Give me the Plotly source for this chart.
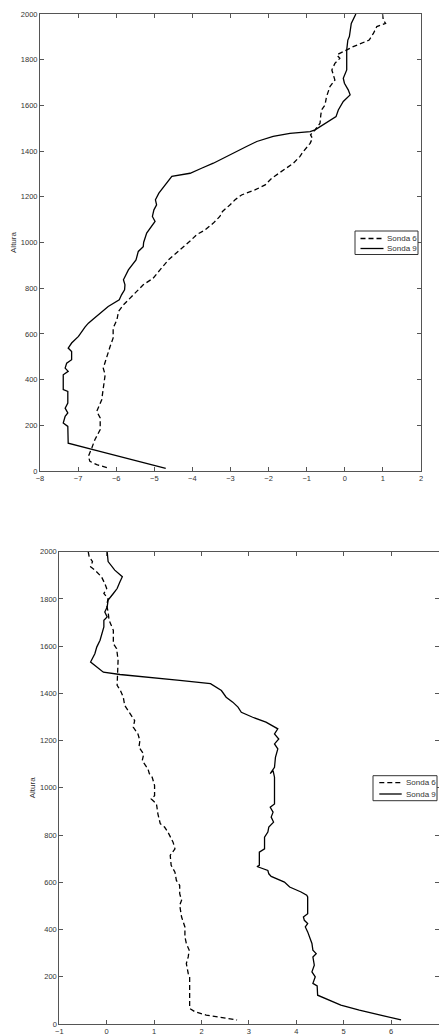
import plotly.graph_objects as go

# ---------------- Top panel ----------------
top_s6_x = [0.99, 1.01, 1.07, 0.84, 0.75, 0.64, 0.22, -0.04, -0.21, -0.13, -0.26, -0.34, -0.26, -0.39,
            -0.48, -0.52, -0.61, -0.63, -0.65, -0.78, -0.90, -0.85, -0.91, -1.09, -1.18, -1.35, -1.61,
            -1.92, -2.09, -2.36, -2.71, -2.88, -3.01, -3.21, -3.28, -3.45, -3.67, -3.89, -4.05, -4.33,
            -4.63, -4.85, -5.03, -5.29, -5.59, -5.81, -5.94, -5.98, -6.08, -6.08, -6.16, -6.25, -6.34,
            -6.29, -6.34, -6.38, -6.51, -6.42, -6.42, -6.56, -6.64, -6.73, -6.69, -6.51, -6.18]
top_s6_y = [2000, 1974, 1959, 1945, 1915, 1886, 1857, 1835, 1821, 1806, 1784, 1755, 1711, 1682,
            1638, 1602, 1580, 1558, 1522, 1493, 1471, 1456, 1434, 1398, 1376, 1347, 1318,
            1281, 1252, 1230, 1208, 1187, 1165, 1136, 1114, 1085, 1055, 1034, 1008, 968,
            924, 880, 844, 815, 764, 727, 698, 662, 625, 582, 545, 494, 450,
            421, 370, 312, 261, 232, 181, 137, 101, 64, 42, 28, 12]

top_s9_x = [0.29, 0.17, 0.12, 0.08, 0.05, 0.05, -0.04, -0.01, 0.09, 0.14, -0.04, -0.17, -0.23, -0.43,
            -0.78, -0.91, -1.44, -1.88, -2.31, -2.58, -3.01, -3.45, -3.76, -4.06, -4.54, -4.59, -4.76,
            -4.88, -4.97, -4.94, -5.01, -5.05, -4.98, -5.07, -5.20, -5.28, -5.29, -5.42, -5.48, -5.68,
            -5.81, -5.77, -5.78, -5.86, -5.92, -6.21, -6.43, -6.60, -6.73, -6.82, -6.99, -7.17, -7.26,
            -7.17, -7.17, -7.30, -7.34, -7.26, -7.39, -7.39, -7.27, -7.27, -7.34, -7.27, -7.34, -7.39,
            -7.27, -7.26, -6.43, -5.55, -4.70]
top_s9_y = [2000, 1959, 1901, 1886, 1843, 1755, 1719, 1697, 1668, 1646, 1617, 1580, 1551, 1529,
            1493, 1485, 1478, 1464, 1442, 1420, 1383, 1347, 1325, 1303, 1289, 1278, 1245,
            1216, 1187, 1165, 1143, 1114, 1092, 1070, 1041, 1000, 982, 961, 924, 880,
            837, 815, 793, 771, 749, 720, 691, 665, 647, 630, 589, 560, 538,
            523, 487, 472, 450, 436, 421, 356, 348, 297, 275, 254, 239, 210,
            195, 122, 86, 50, 12]

# ---------------- Bottom panel ----------------
bot_s6_x = [-0.39, -0.37, -0.30, -0.34, -0.25, -0.11, -0.04, 0.00, -0.06, 0.03, 0.00, 0.03, 0.05, 0.10,
            0.14, 0.14, 0.21, 0.24, 0.22, 0.29, 0.35, 0.38, 0.49, 0.59, 0.56, 0.66, 0.70, 0.68, 0.78,
            0.75, 0.87, 0.90, 0.96, 1.01, 1.01, 0.94, 1.05, 1.08, 1.13, 1.22, 1.29, 1.34, 1.40, 1.44,
            1.34, 1.36, 1.44, 1.47, 1.54, 1.54, 1.58, 1.54, 1.58, 1.65, 1.65, 1.68, 1.74, 1.72, 1.68,
            1.72, 1.75, 1.75, 1.86, 2.10, 2.52, 2.75]
bot_s6_y = [2000, 1979, 1958, 1936, 1922, 1894, 1865, 1844, 1823, 1802, 1773, 1745, 1710, 1688,
            1667, 1611, 1589, 1540, 1434, 1412, 1384, 1349, 1313, 1285, 1257, 1228, 1200, 1172, 1143,
            1115, 1080, 1060, 1045, 1010, 967, 953, 932, 890, 848, 834, 813, 791, 770, 742,
            714, 672, 643, 608, 587, 552, 524, 503, 453, 411, 369, 341, 313, 284, 256,
            214, 200, 66, 52, 38, 24, 17]

bot_s9_x = [0.01, 0.03, 0.17, 0.33, 0.28, 0.22, 0.14, 0.03, 0.01, -0.04, 0.01, -0.06, -0.06, -0.11,
            -0.14, -0.21, -0.25, -0.34, -0.21, -0.07, 0.28, 0.91, 1.54, 2.19, 2.31, 2.42, 2.52, 2.66,
            2.77, 2.84, 3.08, 3.36, 3.61, 3.54, 3.63, 3.54, 3.61, 3.56, 3.54, 3.45, 3.51, 3.54, 3.54,
            3.45, 3.51, 3.47, 3.52, 3.42, 3.40, 3.33, 3.33, 3.22, 3.22, 3.17, 3.40, 3.42, 3.47, 3.75,
            3.86, 4.10, 4.22, 4.24, 4.24, 4.15, 4.17, 4.24, 4.19, 4.24, 4.28, 4.33, 4.35, 4.42, 4.35,
            4.38, 4.33, 4.40, 4.35, 4.44, 4.45, 4.70, 4.94, 5.33, 5.75, 6.21]
bot_s9_y = [2000, 1958, 1922, 1894, 1873, 1844, 1823, 1795, 1766, 1745, 1724, 1710, 1681, 1646,
            1625, 1596, 1568, 1533, 1511, 1490, 1480, 1469, 1455, 1441, 1427, 1412, 1384, 1363,
            1342, 1320, 1299, 1278, 1250, 1228, 1207, 1186, 1165, 1129, 1087, 1060, 1073, 1045, 932,
            918, 897, 876, 855, 834, 813, 791, 742, 728, 672, 667, 650, 636, 625, 601,
            580, 559, 545, 538, 467, 453, 439, 425, 411, 390, 369, 341, 313, 298, 284,
            249, 221, 200, 172, 161, 122, 101, 80, 59, 38, 17]

series_names = ["Sonda 6", "Sonda 9"]
y_title = "Altura"
top_xticks = [-8, -7, -6, -5, -4, -3, -2, -1, 0, 1, 2]
bot_xticks = [-1, 0, 1, 2, 3, 4, 5, 6, 7]
yticks = [0, 200, 400, 600, 800, 1000, 1200, 1400, 1600, 1800, 2000]

W, H = 439, 1034


def px(x):
    return x / W


def py(y):
    return (H - y) / H


fig = go.Figure()

DASH = "5px,3px"
line_dash = dict(color="black", width=1.3, dash=DASH)
line_solid = dict(color="black", width=1.3)

fig.add_trace(go.Scatter(x=top_s6_x, y=top_s6_y, mode="lines", line=line_dash, name=series_names[0],
                         xaxis="x", yaxis="y", showlegend=False))
fig.add_trace(go.Scatter(x=top_s9_x, y=top_s9_y, mode="lines", line=line_solid, name=series_names[1],
                         xaxis="x", yaxis="y", showlegend=False))
fig.add_trace(go.Scatter(x=bot_s6_x, y=bot_s6_y, mode="lines", line=line_dash, name=series_names[0],
                         xaxis="x2", yaxis="y2", showlegend=False))
fig.add_trace(go.Scatter(x=bot_s9_x, y=bot_s9_y, mode="lines", line=line_solid, name=series_names[1],
                         xaxis="x2", yaxis="y2", showlegend=False))

FONT = "Liberation Sans, Arial"
axis_common = dict(showline=True, linecolor="#555555", linewidth=1, mirror="ticks", ticks="inside",
                   ticklen=4, tickcolor="#555555", showgrid=False, zeroline=False,
                   tickfont=dict(family=FONT, size=7.5, color="#333333"),
                   automargin=False)

# ---- legends drawn as boxes with line samples and real text ----
shapes = []
annotations = []
legend_boxes = [
    dict(x0=355, x1=418, y0=231, y1=254.5, lx0=360.5, lx1=383.5, tx=385, rows=[238.5, 248.5]),
    dict(x0=373, x1=437, y0=775.7, y1=800.7, lx0=379.3, lx1=401.7, tx=403.5, rows=[782.7, 794]),
]
for lb in legend_boxes:
    shapes.append(dict(type="rect", xref="paper", yref="paper", x0=px(lb["x0"]), x1=px(lb["x1"]),
                       y0=py(lb["y1"]), y1=py(lb["y0"]), line=dict(color="#333333", width=1),
                       fillcolor="white", layer="above"))
    for i, name in enumerate(series_names):
        ry = lb["rows"][i]
        shapes.append(dict(type="line", xref="paper", yref="paper", x0=px(lb["lx0"]), x1=px(lb["lx1"]),
                           y0=py(ry), y1=py(ry), layer="above",
                           line=dict(color="black", width=1.3, dash=DASH if i == 0 else "solid")))
        annotations.append(dict(text=name, xref="paper", yref="paper", x=px(lb["tx"]), y=py(ry),
                                xanchor="left", yanchor="middle", showarrow=False,
                                font=dict(family=FONT, size=8, color="#333333")))

fig.update_layout(
    width=W, height=H,
    margin=dict(l=0, r=0, t=0, b=0),
    paper_bgcolor="white", plot_bgcolor="white",
    font=dict(family=FONT, size=8, color="#333333"),
    showlegend=False,
    xaxis=dict(domain=[px(40), px(421)], range=[-8, 2], tickvals=top_xticks, anchor="y", **axis_common),
    yaxis=dict(domain=[py(471), py(14)], range=[0, 2000], tickvals=yticks, anchor="x",
               title=dict(text=y_title, standoff=3, font=dict(family=FONT, size=8)), **axis_common),
    xaxis2=dict(domain=[px(59.3), px(438.5)], range=[-1, 7], tickvals=bot_xticks, anchor="y2", **axis_common),
    yaxis2=dict(domain=[py(1024), py(551.7)], range=[0, 2000], tickvals=yticks, anchor="x2",
                title=dict(text=y_title, standoff=3, font=dict(family=FONT, size=8)), **axis_common),
    shapes=shapes,
    annotations=annotations,
)

# remove the default page margin so the figure fills the window exactly
fig.write_html("out.html",
               config={"displayModeBar": False},
               post_script="document.body.style.margin='0';document.body.style.overflow='hidden';")
